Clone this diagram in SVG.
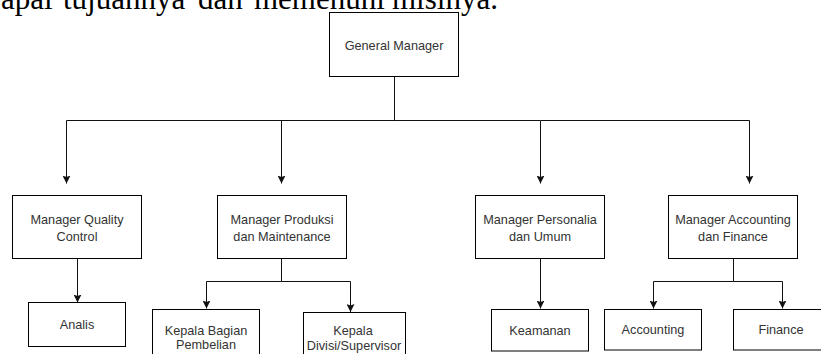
<svg xmlns="http://www.w3.org/2000/svg" width="821" height="354" viewBox="0 0 821 354">
<style>
.box{fill:#fff;stroke:#000;stroke-width:1}
.lbl{font-family:"Liberation Sans",Arial,Helvetica,sans-serif;font-size:12.7px;fill:#333;text-anchor:middle}
.con{fill:none;stroke:#111;stroke-width:1}
.para{font-family:"Liberation Serif","Times New Roman",serif;font-size:31px;fill:#000}
</style>
<defs>
<marker id="arr" viewBox="0 0 8 8" refX="8" refY="4" markerWidth="8" markerHeight="8" markerUnits="userSpaceOnUse" orient="auto">
<path d="M0,0 L8,4 L0,8 L1.5,4 Z" fill="#111"/>
</marker>
</defs>
<rect width="821" height="354" fill="#fff"/>
<text class="para" y="8.5"><tspan x="1">apai</tspan><tspan x="63">tujuannya</tspan><tspan x="198">dan</tspan><tspan x="254">memenuhi</tspan><tspan x="392">misinya.</tspan></text>

<g id="connectors">
<path class="con" d="M394.5,76.5 V120.5 H66.5 V183.5" marker-end="url(#arr)"/>
<path class="con" d="M394.5,120.5 H281.5 V183.5" marker-end="url(#arr)"/>
<path class="con" d="M394.5,120.5 H540.5 V183.5" marker-end="url(#arr)"/>
<path class="con" d="M540.5,120.5 H749.5 V183.5" marker-end="url(#arr)"/>
<path class="con" d="M77.5,258.5 V302.5" marker-end="url(#arr)"/>
<path class="con" d="M281.5,258.5 V281.5 H206.5 V308.5" marker-end="url(#arr)"/>
<path class="con" d="M281.5,281.5 H350.5 V312" marker-end="url(#arr)"/>
<path class="con" d="M540.5,258.5 V308.5" marker-end="url(#arr)"/>
<path class="con" d="M733.5,258.5 V281.5 H653.5 V308.5" marker-end="url(#arr)"/>
<path class="con" d="M733.5,281.5 H782.5 V308.5" marker-end="url(#arr)"/>
</g>

<g id="gm">
<rect class="box" x="329.5" y="12.5" width="129" height="64"/>
<text class="lbl" x="394" y="49.5">General Manager</text>
</g>
<g id="mqc">
<rect class="box" x="12.5" y="195.5" width="129" height="63"/>
<text class="lbl" x="77" y="223.8">Manager Quality</text>
<text class="lbl" x="77" y="240.5">Control</text>
</g>
<g id="mpm">
<rect class="box" x="217.5" y="195.5" width="129" height="63"/>
<text class="lbl" x="282" y="223.8">Manager Produksi</text>
<text class="lbl" x="282" y="240.5">dan Maintenance</text>
</g>
<g id="mpu">
<rect class="box" x="475.5" y="195.5" width="129" height="63"/>
<text class="lbl" x="540" y="223.8">Manager Personalia</text>
<text class="lbl" x="540" y="240.5">dan Umum</text>
</g>
<g id="maf">
<rect class="box" x="668.5" y="195.5" width="129" height="63"/>
<text class="lbl" x="733" y="223.8">Manager Accounting</text>
<text class="lbl" x="733" y="240.5">dan Finance</text>
</g>
<g id="analis">
<rect class="box" x="28.5" y="302.5" width="97" height="44"/>
<text class="lbl" x="77" y="328.5">Analis</text>
</g>
<g id="kbp">
<rect class="box" x="152.5" y="309.5" width="107" height="50"/>
<text class="lbl" x="206" y="334.5">Kepala Bagian</text>
<text class="lbl" x="206" y="348.5">Pembelian</text>
</g>
<g id="kds">
<rect class="box" x="303.5" y="312.5" width="102" height="50"/>
<text class="lbl" x="353" y="335">Kepala</text>
<text class="lbl" x="354" y="349.5">Divisi/Supervisor</text>
</g>
<g id="keamanan">
<rect class="box" x="491.5" y="309.5" width="97" height="41.5"/>
<text class="lbl" x="540" y="334.5">Keamanan</text>
</g>
<g id="accounting">
<rect class="box" x="604.5" y="309.5" width="97" height="40.5"/>
<text class="lbl" x="653" y="333.5">Accounting</text>
</g>
<g id="finance">
<rect class="box" x="733.5" y="309.5" width="95" height="40.5"/>
<text class="lbl" x="781" y="333.5">Finance</text>
</g>
</svg>
